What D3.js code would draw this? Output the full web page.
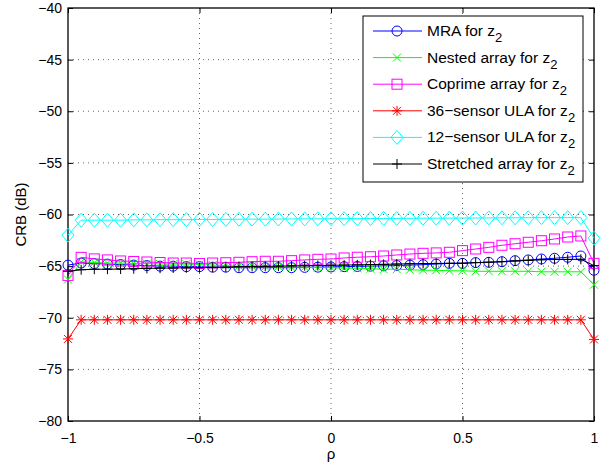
<!DOCTYPE html>
<html lang="en">
<head>
    <meta charset="UTF-8">
    <title>CRB vs rho</title>
    <script src="https://d3js.org/d3.v7.min.js"></script>
    <style>
        body { margin: 0; background: #fff; }
        svg { display: block; font-family: "Liberation Sans", Arial, sans-serif; }
        .tick text { font-size: 14px; fill: #000; }
        .grid line { stroke: #000; stroke-width: 1px; stroke-dasharray: 1,4; opacity: 0.6; }
        .series { fill: none; stroke-width: 1px; }
        .legend-text { font-size: 15.5px; fill: #000; }
    </style>
</head>
<body>
<script>
const rho = [-1, -0.95, -0.9, -0.85, -0.8, -0.75, -0.7, -0.65, -0.6, -0.55, -0.5,
    -0.45, -0.4, -0.35, -0.3, -0.25, -0.2, -0.15, -0.1, -0.05, 0,
    0.05, 0.1, 0.15, 0.2, 0.25, 0.3, 0.35, 0.4, 0.45, 0.5,
    0.55, 0.6, 0.65, 0.7, 0.75, 0.8, 0.85, 0.9, 0.95, 1];

const mra = [-64.9, -64.7, -64.75, -64.8, -64.85, -64.9, -64.95, -65.0, -65.0, -65.05, -65.05,
    -65.1, -65.1, -65.15, -65.15, -65.15, -65.15, -65.15, -65.12, -65.1, -65.08,
    -65.05, -65.03, -65.0, -64.97, -64.94, -64.9, -64.86, -64.8, -64.73, -64.73,
    -64.66, -64.63, -64.57, -64.47, -64.4, -64.31, -64.24, -64.14, -64.02, -65.4];

const nested = [-66.3, -64.6, -64.65, -64.7, -64.7, -64.75, -64.75, -64.8, -64.8, -64.8, -64.85,
    -64.9, -64.95, -65.0, -65.0, -65.05, -65.05, -65.1, -65.1, -65.15, -65.15,
    -65.2, -65.2, -65.25, -65.3, -65.3, -65.35, -65.4, -65.4, -65.45, -65.45,
    -65.5, -65.5, -65.5, -65.5, -65.5, -65.55, -65.55, -65.55, -65.55, -66.8];

const coprime = [-65.9, -64.15, -64.3, -64.4, -64.5, -64.55, -64.6, -64.65, -64.7, -64.7, -64.75,
    -64.7, -64.67, -64.63, -64.57, -64.53, -64.53, -64.47, -64.4, -64.34, -64.31,
    -64.21, -64.14, -64.09, -64.02, -63.92, -63.83, -63.76, -63.72, -63.66, -63.5,
    -63.34, -63.18, -62.98, -62.83, -62.69, -62.54, -62.37, -62.18, -62.08, -64.73];

const ula36 = [-72.05, -70.2, -70.2, -70.2, -70.2, -70.2, -70.2, -70.2, -70.2, -70.2, -70.2,
    -70.2, -70.2, -70.2, -70.2, -70.2, -70.2, -70.2, -70.2, -70.2, -70.2,
    -70.2, -70.2, -70.2, -70.2, -70.2, -70.2, -70.2, -70.2, -70.2, -70.2,
    -70.2, -70.2, -70.2, -70.2, -70.2, -70.2, -70.2, -70.2, -70.2, -72.1];

const ula12 = [-62.0, -60.55, -60.55, -60.55, -60.55, -60.52, -60.52, -60.5, -60.5, -60.5, -60.48,
    -60.48, -60.47, -60.46, -60.45, -60.45, -60.44, -60.43, -60.42, -60.42, -60.41,
    -60.4, -60.4, -60.39, -60.38, -60.38, -60.37, -60.36, -60.36, -60.35, -60.34,
    -60.34, -60.33, -60.32, -60.32, -60.31, -60.3, -60.3, -60.3, -60.3, -62.3];

const stretched = [-65.5, -65.35, -65.3, -65.3, -65.28, -65.25, -65.22, -65.2, -65.18, -65.16, -65.15,
    -65.12, -65.1, -65.05, -65.03, -65.02, -65.0, -64.98, -64.96, -64.94, -64.92,
    -64.9, -64.88, -64.85, -64.83, -64.8, -64.77, -64.75, -64.74, -64.73, -64.72,
    -64.66, -64.62, -64.57, -64.5, -64.45, -64.38, -64.36, -64.35, -64.34, -64.95];

const seriesNames = ["MRA for z", "Nested array for z", "Coprime array for z",
    "36\u2212sensor ULA for z", "12\u2212sensor ULA for z", "Stretched array for z"];
const seriesValues = [mra, nested, coprime, ula36, ula12, stretched];
const seriesColors = ["#0000ff", "#00ff00", "#ff00ff", "#ff0000", "#00ffff", "#000000"];
const seriesMarkers = ["circle", "x", "square", "star", "diamond", "plus"];

const xTicks = [-1, -0.5, 0, 0.5, 1];
const yTicks = [-80, -75, -70, -65, -60, -55, -50, -45, -40];

const width = 613, height = 468;
const margin = { top: 8, right: 19, bottom: 47, left: 68 };
const iw = width - margin.left - margin.right;
const ih = height - margin.top - margin.bottom;

const svg = d3.select("body").append("svg")
    .attr("width", width)
    .attr("height", height);

const g = svg.append("g").attr("transform", `translate(${margin.left},${margin.top})`);

const x = d3.scaleLinear().domain([-1, 1]).range([0, iw]);
const y = d3.scaleLinear().domain([-80, -40]).range([ih, 0]);

const fmt = d => (d < 0 ? "\u2212" + Math.abs(d) : String(d));

// grid lines
g.append("g").attr("class", "grid")
    .selectAll("line").data(xTicks.slice(1, -1)).enter().append("line")
    .attr("x1", d => x(d)).attr("x2", d => x(d))
    .attr("y1", 0).attr("y2", ih);
g.append("g").attr("class", "grid")
    .selectAll("line").data(yTicks.slice(1, -1)).enter().append("line")
    .attr("x1", 0).attr("x2", iw)
    .attr("y1", d => y(d)).attr("y2", d => y(d));

// axes, ticks pointing inward
const xAxis = g.append("g").attr("transform", `translate(0,${ih})`)
    .call(d3.axisBottom(x).tickValues(xTicks).tickFormat(fmt).tickSizeInner(-5).tickSizeOuter(0).tickPadding(9));
const yAxis = g.append("g")
    .call(d3.axisLeft(y).tickValues(yTicks).tickFormat(fmt).tickSizeInner(-5).tickSizeOuter(0).tickPadding(6));
g.append("g").attr("transform", `translate(${iw},0)`)
    .call(d3.axisRight(y).tickValues(yTicks).tickFormat("").tickSizeInner(-5).tickSizeOuter(0));
g.append("g")
    .call(d3.axisTop(x).tickValues(xTicks).tickFormat("").tickSizeInner(-5).tickSizeOuter(0));
g.selectAll(".domain").remove();
g.selectAll(".tick line").attr("stroke", "#000");
xAxis.selectAll(".tick text").attr("dy", "0.9em");

// frame
g.append("rect")
    .attr("width", iw).attr("height", ih)
    .attr("fill", "none").attr("stroke", "#000").attr("stroke-width", 1.3);

function drawMarker(sel, type, color) {
    sel.each(function () {
        const m = d3.select(this);
        if (type === "circle") {
            m.append("circle").attr("r", 5).attr("fill", "none").attr("stroke", color);
        } else if (type === "square") {
            m.append("rect").attr("x", -5).attr("y", -5).attr("width", 10).attr("height", 10)
                .attr("fill", "none").attr("stroke", color);
        } else if (type === "diamond") {
            m.append("path").attr("d", "M0,-7L6,0L0,7L-6,0Z").attr("fill", "none").attr("stroke", color);
        } else if (type === "x") {
            m.append("path").attr("d", "M-4,-4L4,4M-4,4L4,-4").attr("stroke", color);
        } else if (type === "plus") {
            m.append("path").attr("d", "M-5,0L5,0M0,-5L0,5").attr("stroke", color);
        } else if (type === "star") {
            m.append("path").attr("d", "M-5,0L5,0M0,-5L0,5M-4,-4L4,4M-4,4L4,-4").attr("stroke", color);
        }
    });
}

const line = d3.line().x((d, i) => x(rho[i])).y(d => y(d));

seriesValues.forEach((vals, k) => {
    g.append("path").datum(vals)
        .attr("class", "series")
        .attr("stroke", seriesColors[k])
        .attr("d", line);
    const marks = g.append("g").selectAll("g").data(vals).enter().append("g")
        .attr("transform", (d, i) => `translate(${x(rho[i])},${y(d)})`);
    drawMarker(marks, seriesMarkers[k], seriesColors[k]);
});

// legend
const lx = 363 - margin.left, ly = 16 - margin.top, lw = 220, lh = 166;
const legend = g.append("g").attr("transform", `translate(${lx},${ly})`);
legend.append("rect").attr("width", lw).attr("height", lh)
    .attr("fill", "#fff").attr("stroke", "#000").attr("stroke-width", 1);

seriesNames.forEach((name, k) => {
    const row = legend.append("g").attr("transform", `translate(0,${15 + k * 26.6})`);
    row.append("line").attr("x1", 10).attr("x2", 59).attr("y1", 0).attr("y2", 0)
        .attr("stroke", seriesColors[k]);
    const mk = row.append("g").attr("transform", "translate(34,0)");
    drawMarker(mk, seriesMarkers[k], seriesColors[k]);
    const t = row.append("text").attr("class", "legend-text")
        .attr("x", 64).attr("y", 5).text(name);
    t.append("tspan").attr("dy", 6).attr("font-size", "13px").text("2");
});

// axis labels
svg.append("text")
    .attr("x", margin.left + iw / 2).attr("y", 459)
    .attr("text-anchor", "middle").attr("font-size", "15px").text("\u03c1");
svg.append("text")
    .attr("transform", `translate(26,${margin.top + ih / 2}) rotate(-90)`)
    .attr("text-anchor", "middle").attr("font-size", "15px").text("CRB (dB)");
</script>
</body>
</html>
